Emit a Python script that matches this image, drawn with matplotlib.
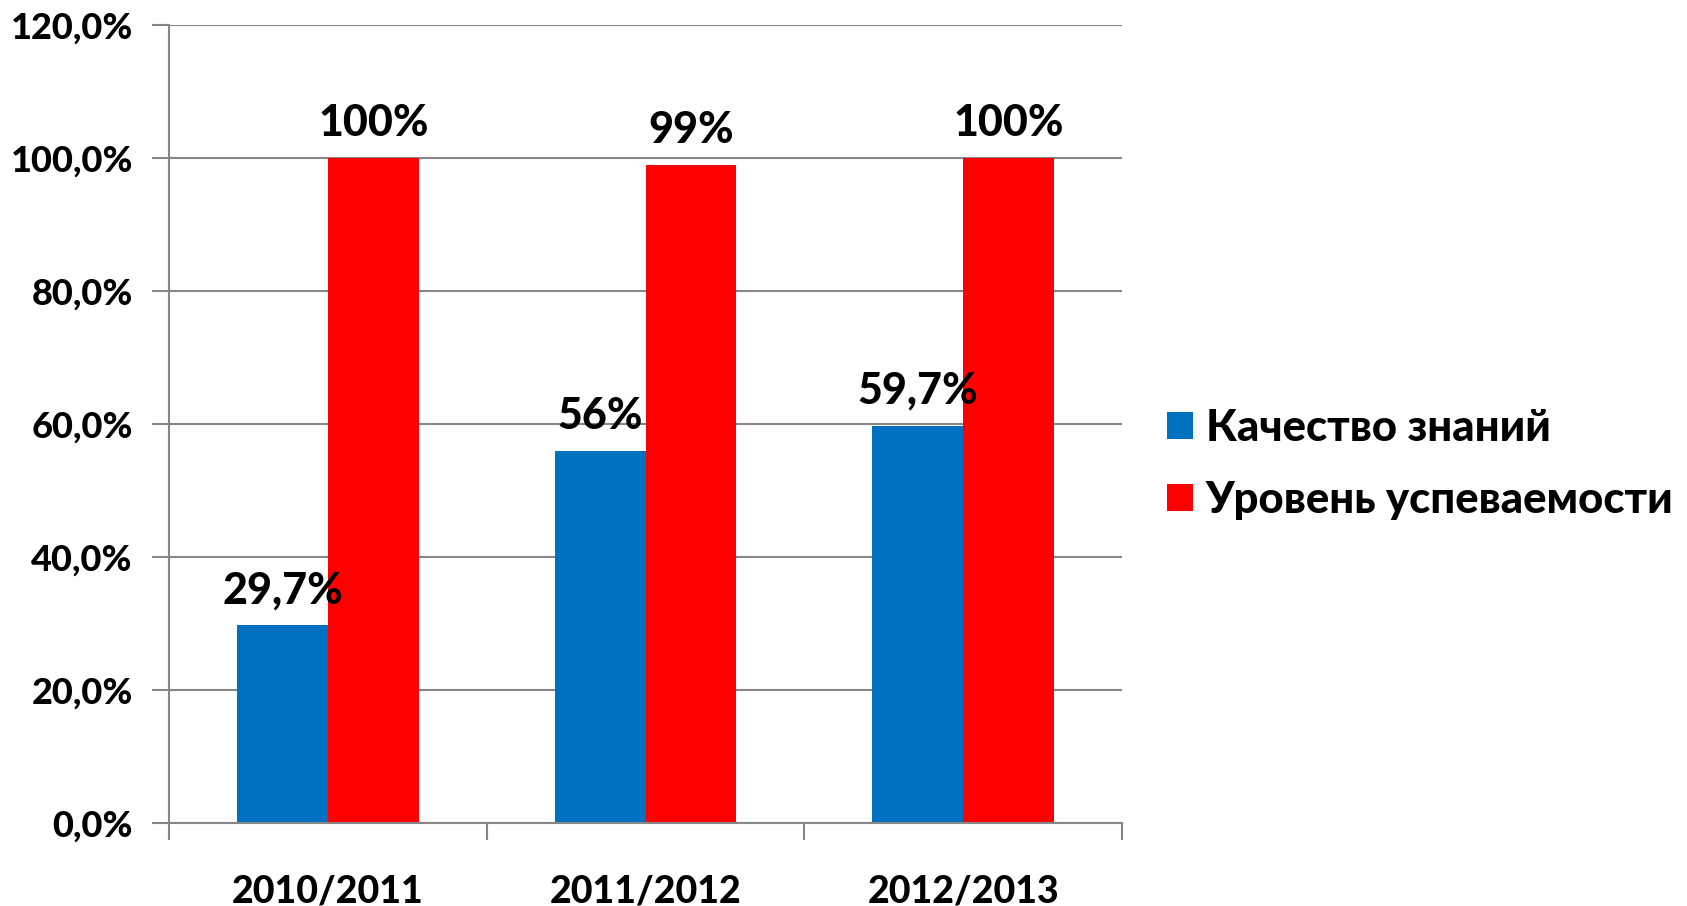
import matplotlib
matplotlib.use("Agg")
import matplotlib.pyplot as plt
import numpy as np
from matplotlib.ticker import FuncFormatter

categories = ["2010/2011", "2011/2012", "2012/2013"]
series_names = ["Качество знаний", "Уровень успеваемости"]
quality = [29.7, 56, 59.7]
success = [100, 99, 100]
quality_labels = ["29,7%", "56%", "59,7%"]
success_labels = ["100%", "99%", "100%"]
colors = ["#0070C0", "#FF0000"]

WT = 900
plt.rcParams['font.family'] = ['Lato', 'DejaVu Sans']
plt.rcParams['font.weight'] = WT

fig = plt.figure(figsize=(16.87, 9.06), dpi=100)
ax = fig.add_axes([169/1687, 1-823/906, (1122-169)/1687, (823-25)/906])

x = np.arange(len(categories))
w = 0.286
b1 = ax.bar(x - w/2, quality, w, color=colors[0], label=series_names[0])
b2 = ax.bar(x + w/2, success, w, color=colors[1], label=series_names[1])

for rect, lab in zip(b1, quality_labels):
    ax.annotate(lab, (rect.get_x() + rect.get_width()/2, rect.get_height()),
                xytext=(0, 15), textcoords='offset pixels', ha='center', va='bottom',
                fontsize=31, fontweight=WT)
for rect, lab in zip(b2, success_labels):
    ax.annotate(lab, (rect.get_x() + rect.get_width()/2, rect.get_height()),
                xytext=(0, 15), textcoords='offset pixels', ha='center', va='bottom',
                fontsize=31, fontweight=WT)

ax.set_xlim(-0.5, 2.5)
ax.set_ylim(0, 120)
ax.set_yticks(np.arange(0, 121, 20))
ax.yaxis.set_major_formatter(FuncFormatter(lambda v, p: f"{v:.1f}%".replace('.', ',')))
ax.set_xticks(x)
ax.set_xticklabels(categories)
ax.set_xticks([-0.5, 0.5, 1.5, 2.5], minor=True)
ax.tick_params(axis='x', which='major', length=0, pad=37, labelsize=27)
ax.tick_params(axis='x', which='minor', length=12, width=1.5, color='#868686')
ax.tick_params(axis='y', length=12, width=1.5, color='#868686', labelsize=26, pad=14)
for t in ax.get_xticklabels() + ax.get_yticklabels():
    t.set_fontweight(WT)

ax.grid(axis='y', color='#868686', linewidth=1.5)
ax.set_axisbelow(True)
for s in ['top', 'right']:
    ax.spines[s].set_visible(False)
for s in ['left', 'bottom']:
    ax.spines[s].set_color('#868686')
    ax.spines[s].set_linewidth(1.5)

leg = fig.legend(loc='center left', bbox_to_anchor=(1128/1687, 1-464/906), frameon=False,
                 prop={'size': 31.5, 'weight': WT}, handlelength=0.58, handleheight=0.58,
                 handletextpad=0.3, labelspacing=0.72)

fig.savefig("out.png", dpi=100)
